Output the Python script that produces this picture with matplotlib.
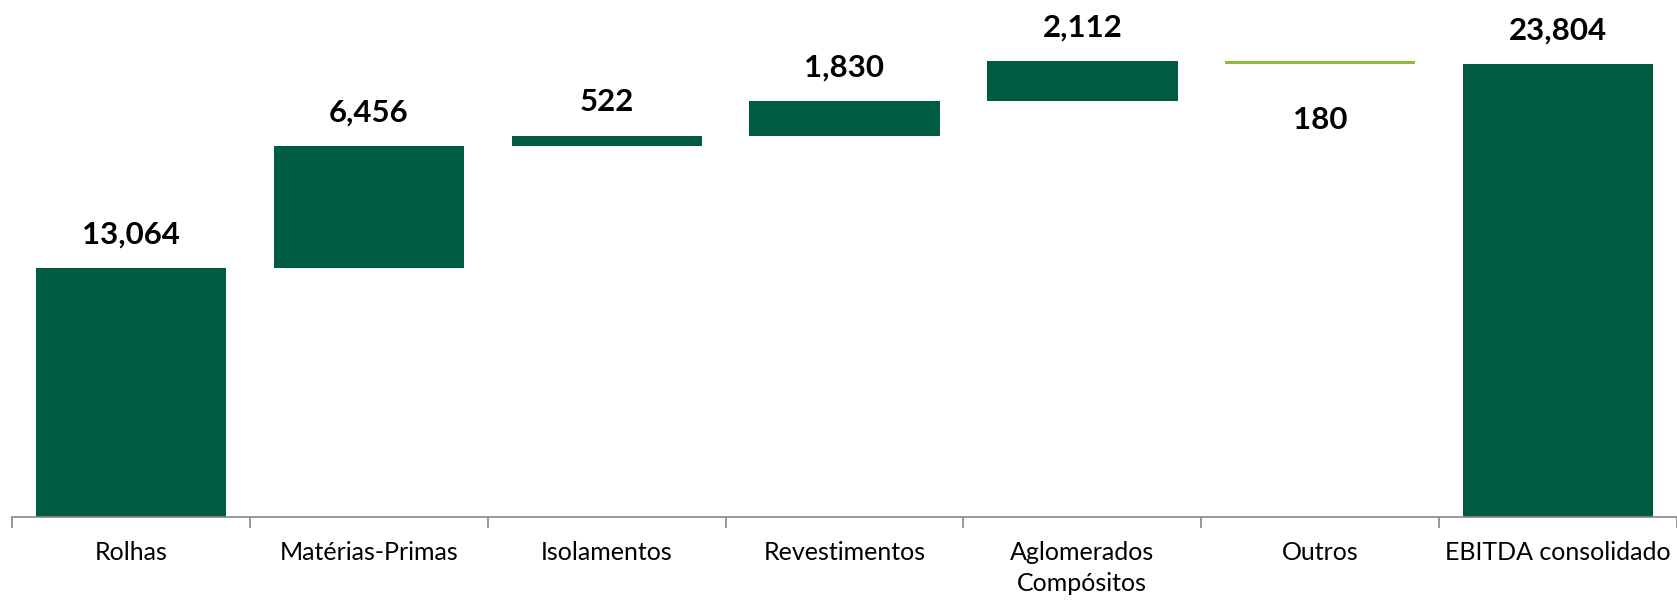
import numpy as np
import matplotlib

matplotlib.use("Agg")
import matplotlib.pyplot as plt
from matplotlib.ticker import FixedLocator

plt.rcParams["font.family"] = ["Lato", "DejaVu Sans"]

# waterfall data: start, increments, total
categories = ["Rolhas", "Matérias-Primas", "Isolamentos", "Revestimentos",
              "Aglomerados\nCompósitos", "Outros", "EBITDA consolidado"]
values = [13064, 6456, 522, 1830, 2112, -180, 23804]
is_total = [True, False, False, False, False, False, True]

DARK = "#005B43"
LIGHT = "#8CBB3E"

fig = plt.figure(figsize=(16.77, 6.02), dpi=100)
ax = fig.add_axes([12 / 1677, 1 - 517 / 602, 1 - 12 / 1677, 517 / 602])

x = np.arange(len(categories))
bottoms, heights, colors = [], [], []
running = 0
for v, tot in zip(values, is_total):
    if tot:
        bottoms.append(0)
        heights.append(v)
        running = v
        colors.append(DARK)
    elif v >= 0:
        bottoms.append(running)
        heights.append(v)
        running += v
        colors.append(DARK)
    else:
        running += v
        bottoms.append(running)
        heights.append(-v)
        colors.append(LIGHT)

ax.bar(x, heights, bottom=bottoms, width=0.8, color=colors, linewidth=0)

for xi, v, b, h in zip(x, values, bottoms, heights):
    if v >= 0:
        ax.annotate(f"{v:,}", (xi, b + h), xytext=(0, 24), textcoords="offset points",
                    ha="center", va="center", fontsize=22.5, fontweight="bold")
    else:
        ax.annotate(f"{-v:,}", (xi, b), xytext=(0, -40), textcoords="offset points",
                    ha="center", va="center", fontsize=22.5, fontweight="bold")

ax.set_xlim(-0.5, len(categories) - 0.5)
ax.set_ylim(0, 27170)

ax.set_xticks(x)
ax.set_xticklabels(categories, fontsize=18, linespacing=1.45)
ax.xaxis.set_minor_locator(FixedLocator(np.arange(len(categories) + 1) - 0.5))
ax.tick_params(axis="x", which="major", length=0, pad=17)
ax.tick_params(axis="x", which="minor", length=8, color="#888888", width=1.2)
ax.set_yticks([])

for s in ["top", "right", "left"]:
    ax.spines[s].set_visible(False)
ax.spines["bottom"].set_color("#888888")
ax.spines["bottom"].set_linewidth(1.2)

fig.savefig("out.png", dpi=100)
